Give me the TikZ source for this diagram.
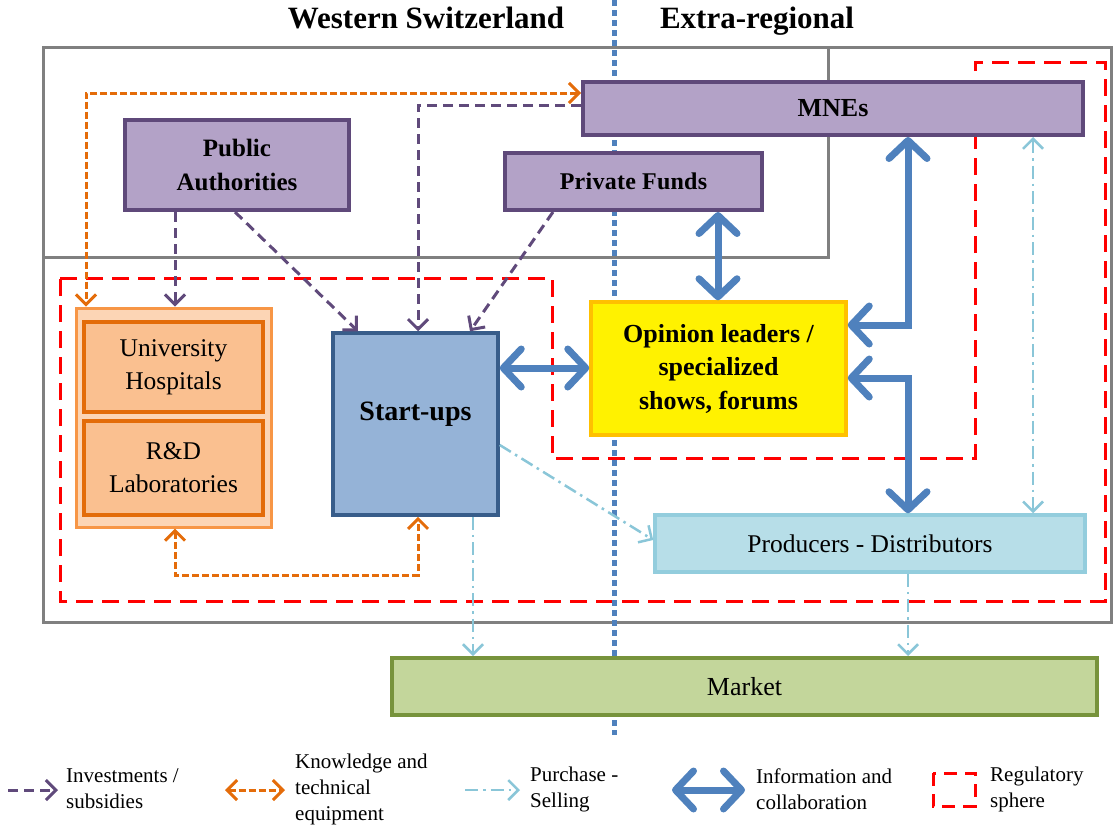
\documentclass[tikz,border=0pt]{standalone}
\usepackage{fontspec}
\setmainfont{Liberation Serif}
\usetikzlibrary{arrows.meta}
\definecolor{purf}{HTML}{B3A2C7}
\definecolor{purd}{HTML}{5F497A}
\definecolor{invc}{HTML}{604A7B}
\definecolor{orc}{HTML}{E46C0A}
\definecolor{orout}{HTML}{FCD5B5}
\definecolor{orouted}{HTML}{F79646}
\definecolor{orin}{HTML}{FAC090}
\definecolor{orined}{HTML}{E36C09}
\definecolor{suf}{HTML}{95B3D7}
\definecolor{sud}{HTML}{385D8A}
\definecolor{opd}{HTML}{FFC000}
\definecolor{pdf}{HTML}{B7DEE8}
\definecolor{pdd}{HTML}{93CDDD}
\definecolor{mkf}{HTML}{C3D69B}
\definecolor{mkd}{HTML}{77933C}
\definecolor{psc}{HTML}{8AC6D8}
\definecolor{icc}{HTML}{4F81BD}
\definecolor{grayl}{HTML}{808080}
\newcommand{\fsz}[2]{\fontsize{#1}{#2}\selectfont}
\begin{document}
\begin{tikzpicture}[x=1pt,y=-1pt,
  box/.style={draw, rectangle, inner sep=0pt, align=center},
  pbox/.style={box, fill=purf, draw=purd, line width=4pt, font=\bfseries\fsz{25}{34}},
  obox/.style={box, fill=orin, draw=orined, line width=4pt, font=\fsz{25.5}{33}},
  inv/.style={draw=invc, line width=3pt, dash pattern=on 10pt off 6pt, -{Straight Barb[length=10pt,width=20pt]}},
  kn/.style={draw=orc, line width=3pt, dash pattern=on 7pt off 3pt, {Straight Barb[length=10pt,width=20pt]}-{Straight Barb[length=10pt,width=20pt]}},
  ps/.style={draw=psc, line width=2.5pt, dash pattern=on 13pt off 5pt on 2.5pt off 5pt, -{Straight Barb[length=10pt,width=20pt]}},
  psd/.style={ps, {Straight Barb[length=10pt,width=20pt]}-{Straight Barb[length=10pt,width=20pt]}},
  ic/.style={draw=icc, line width=7pt, {Straight Barb[length=18pt,width=38pt,round]}-{Straight Barb[length=18pt,width=38pt,round]}},
  reg/.style={draw=red, line width=3pt, dash pattern=on 17pt off 9pt},
  frame/.style={draw=grayl, line width=3pt},
  legtxt/.style={anchor=west, align=left, font=\fsz{21}{26}, inner sep=0pt},
  title/.style={font=\bfseries\fsz{31}{34}, inner sep=0pt, anchor=base}
]
\useasboundingbox (0,0) rectangle (1113,827);

% column / row helper coordinates
\coordinate (c86) at (86,0);
\coordinate (c175) at (175,0);
\coordinate (c235) at (235,0);
\coordinate (c358) at (358,0);
\coordinate (c418) at (418,0);
\coordinate (c470) at (470,0);
\coordinate (c473) at (473,0);
\coordinate (c553) at (553,0);
\coordinate (c718) at (718,0);
\coordinate (c908) at (908,0);
\coordinate (c1033) at (1033,0);
\coordinate (r93) at (0,93);
\coordinate (r105) at (0,105);
\coordinate (r325) at (0,325);
\coordinate (r368) at (0,368);
\coordinate (r378) at (0,378);
\coordinate (r445) at (0,445);
\coordinate (r540) at (0,540);
\coordinate (r575) at (0,575);

% titles
\node[title] (tw) at (426,28) {Western Switzerland};
\node[title] (te) at (757,28) {Extra-regional};

% gray frames
\draw[frame] (1111,47) -- (43,47) -- (43,622) -- (1111,622) -- cycle;
\draw[frame] (43,257) -- (828,257) -- (828,47);

% regulatory sphere
\draw[reg] (60,278) -- (552,278) -- (552,458) -- (975,458) -- (975,62) -- (1105,62) -- (1105,601) -- (60,601) -- cycle;

% border line
\draw[draw=icc, line width=5pt, dash pattern=on 6pt off 4pt] (614,0) -- (614,735);

% boxes
\node[pbox, minimum width=500pt, minimum height=53pt] (mne) at (833,108.5) {\fsz{26}{30}MNEs};
\node[pbox, minimum width=224pt, minimum height=90pt] (pa) at (237,165) {Public\\Authorities};
\node[pbox, minimum width=257pt, minimum height=57pt] (pf) at (633.5,181.5) {\addfontfeature{LetterSpace=1}\fsz{24}{30}Private Funds};
\node[box, fill=orout, draw=orouted, line width=3pt, minimum width=195pt, minimum height=219pt] (ob) at (173.5,417.5) {};
\node[obox, minimum width=179pt, minimum height=90pt] (uh) at (173.5,367) {University\\Hospitals};
\node[obox, minimum width=179pt, minimum height=94pt] (rd) at (173.5,468) {R\&D\\Laboratories};
\node[box, fill=suf, draw=sud, line width=3.5pt, minimum width=165pt, minimum height=182pt, font=\bfseries\fsz{28}{30}] (su) at (415.5,424) {\raisebox{26pt}{Start-ups}};
\node[box, fill=yellow, draw=opd, line width=3.5pt, minimum width=255pt, minimum height=133pt, font=\bfseries\fsz{26}{33.5}] (op) at (718.5,368.5) {Opinion leaders /\\specialized\\shows, forums};
\node[box, fill=pdf, draw=pdd, line width=3.5pt, minimum width=430pt, minimum height=57pt, font=\fsz{25.5}{30}] (pd) at (870,543.5) {Producers - Distributors};
\node[box, fill=mkf, draw=mkd, line width=4pt, minimum width=705pt, minimum height=57pt, font=\fsz{26}{30}] (mk) at (744.5,686.5) {Market};

% investments / subsidies
\draw[inv] (pa.south -| c175) -- (ob.north -| c175);
\draw[inv] (pa.south -| c235) -- (su.north -| c358);
\draw[inv] (mne.west |- r105) -| (su.north -| c418);
\draw[inv] (pf.south -| c553) -- (su.north -| c470);

% knowledge and technical equipment
\draw[kn] (mne.west |- r93) -| (ob.north -| c86);
\draw[kn] (ob.south -| c175) |- (c418 |- r575) -- (su.south -| c418);

% purchase - selling
\draw[ps] (su.east |- r445) -- (pd.west |- r540);
\draw[ps] (su.south -| c473) -- (mk.north -| c473);
\draw[ps] (pd.south -| c908) -- (mk.north -| c908);
\draw[psd] (mne.south -| c1033) -- (pd.north -| c1033);

% information and collaboration
\draw[ic] (su.east |- r368) -- (op.west |- r368);
\draw[ic] (pf.south -| c718) -- (op.north -| c718);
\draw[ic] (mne.south -| c908) |- (op.east |- r325);
\draw[ic] (op.east |- r378) -| (pd.north -| c908);

% legend
\coordinate (l1a) at (8,790);   \coordinate (l1b) at (58,790);
\coordinate (l2a) at (225,790); \coordinate (l2b) at (285,790);
\coordinate (l3a) at (465,790); \coordinate (l3b) at (520,790);
\coordinate (l4a) at (672,790); \coordinate (l4b) at (745,790);
\draw[inv] (l1a) -- (l1b);
\draw[kn] (l2a) -- (l2b);
\draw[ps] (l3a) -- (l3b);
\draw[ic] (l4a) -- (l4b);
\draw[reg, dash pattern=on 13pt off 8pt] (933,773) rectangle (975,806);
\node[legtxt] (t1) at (66,789) {Investments /\\subsidies};
\node[legtxt] (t2) at (295,789) {Knowledge and\\technical\\equipment};
\node[legtxt] (t3) at (530,789) {Purchase -\\Selling};
\node[legtxt] (t4) at (756,789) {Information and\\collaboration};
\node[legtxt] (t5) at (990,789) {Regulatory\\sphere};
\end{tikzpicture}
\end{document}
